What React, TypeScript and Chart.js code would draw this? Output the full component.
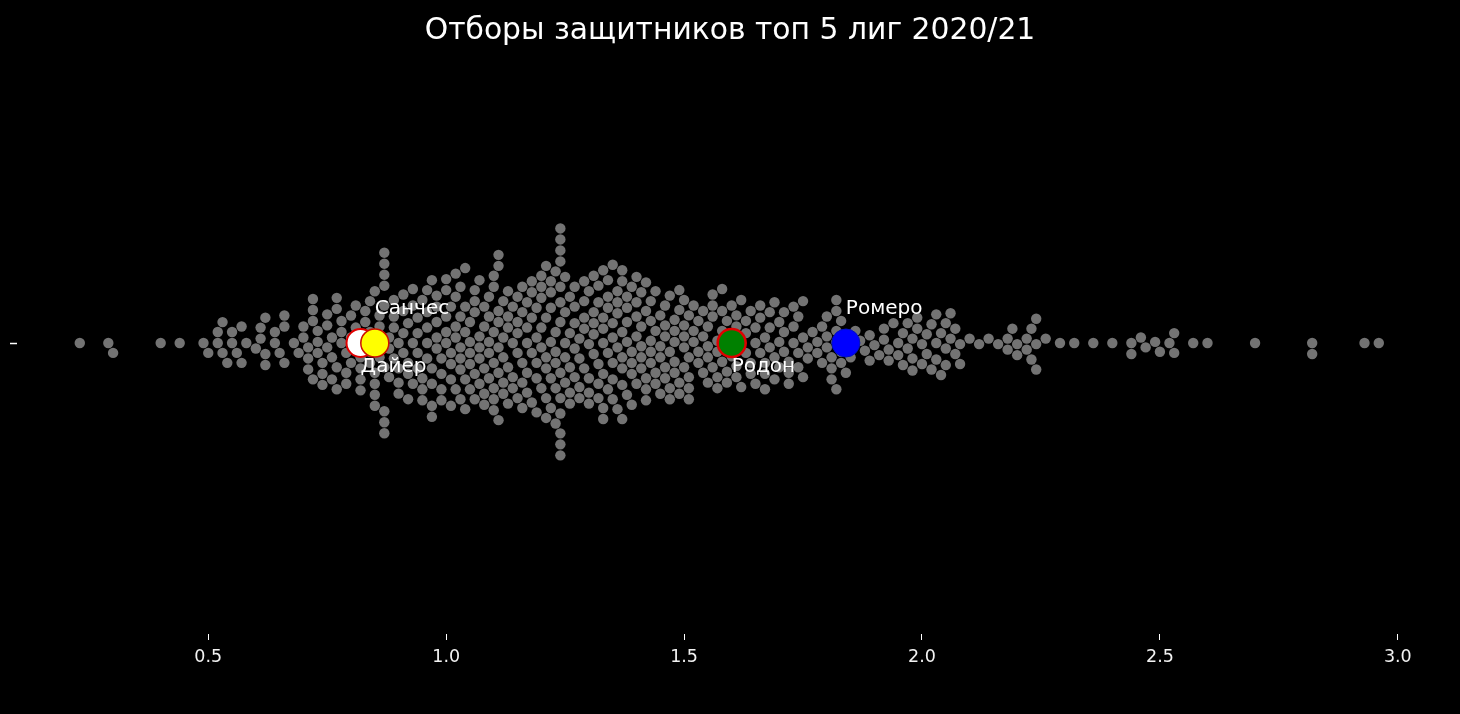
import React, { useEffect, useRef } from 'react';
import { Chart, registerables } from 'chart.js';

Chart.register(...registerables);

const TITLE = 'Отборы защитников топ 5 лиг 2020/21';

// tackles per 90 (distinct values) and number of defenders with that value
const tackleValues = [
  0.23, 0.29, 0.30, 0.40, 0.44, 0.49, 0.50, 0.52, 0.53, 0.54, 0.55, 0.56, 0.57, 0.58, 0.60, 0.61, 0.62, 0.64, 0.65, 0.66,
  0.68, 0.69, 0.70, 0.71, 0.72, 0.73, 0.74, 0.75, 0.76, 0.77, 0.78, 0.79, 0.80, 0.81, 0.82, 0.83, 0.84, 0.85, 0.86, 0.87,
  0.88, 0.89, 0.90, 0.91, 0.92, 0.93, 0.94, 0.95, 0.96, 0.97, 0.98, 0.99, 1.00, 1.01, 1.02, 1.03, 1.04, 1.05, 1.06, 1.07,
  1.08, 1.09, 1.10, 1.11, 1.12, 1.13, 1.14, 1.15, 1.16, 1.17, 1.18, 1.19, 1.20, 1.21, 1.22, 1.23, 1.24, 1.25, 1.26, 1.27,
  1.28, 1.29, 1.30, 1.31, 1.32, 1.33, 1.34, 1.35, 1.36, 1.37, 1.38, 1.39, 1.40, 1.41, 1.42, 1.43, 1.44, 1.45, 1.46, 1.47,
  1.48, 1.49, 1.50, 1.51, 1.52, 1.53, 1.54, 1.55, 1.56, 1.57, 1.58, 1.59, 1.60, 1.61, 1.62, 1.63, 1.64, 1.65, 1.66, 1.67,
  1.68, 1.69, 1.70, 1.71, 1.72, 1.73, 1.74, 1.75, 1.76, 1.77, 1.78, 1.79, 1.80, 1.81, 1.82, 1.83, 1.84, 1.85, 1.86, 1.87,
  1.88, 1.89, 1.90, 1.91, 1.92, 1.93, 1.94, 1.95, 1.96, 1.97, 1.98, 1.99, 2.00, 2.01, 2.02, 2.03, 2.04, 2.05, 2.06, 2.07,
  2.08, 2.10, 2.12, 2.14, 2.16, 2.18, 2.19, 2.20, 2.22, 2.23, 2.24, 2.26, 2.29, 2.32, 2.36, 2.40, 2.44, 2.46, 2.47, 2.49,
  2.50, 2.52, 2.53, 2.57, 2.60, 2.70, 2.82, 2.93, 2.96,
];
const playerCounts = [
  1, 1, 1, 1, 1, 1, 1, 2, 2, 1, 2, 1, 2, 1, 1, 2, 3, 2, 1, 3,
  1, 1, 2, 3, 4, 3, 3, 3, 3, 4, 3, 3, 3, 3, 4, 3, 4, 5, 4, 9,
  3, 4, 4, 4, 4, 4, 4, 4, 5, 5, 5, 4, 5, 5, 5, 6, 5, 5, 5, 5,
  5, 5, 7, 7, 5, 5, 4, 5, 5, 5, 5, 5, 6, 6, 6, 6, 13, 5, 5, 5,
  4, 5, 5, 5, 5, 7, 5, 6, 5, 7, 5, 5, 5, 5, 5, 5, 4, 4, 5, 4,
  5, 4, 5, 5, 3, 3, 3, 4, 4, 4, 4, 4, 3, 4, 3, 3, 3, 3, 3, 4,
  3, 3, 3, 3, 3, 3, 3, 3, 2, 1, 2, 2, 3, 3, 5, 3, 2, 2, 1, 1,
  1, 2, 1, 1, 2, 2, 1, 2, 2, 2, 3, 2, 2, 2, 2, 3, 2, 3, 2, 2,
  2, 1, 1, 1, 1, 2, 1, 2, 2, 2, 3, 1, 1, 1, 1, 1, 2, 1, 1, 1,
  1, 1, 2, 1, 1, 1, 2, 1, 1,
];

const highlightNames = ['Дайер', 'Санчес', 'Родон', 'Ромеро'];
const highlightValues = [0.82, 0.85, 1.6, 1.84];
const xTickValues = [0.5, 1.0, 1.5, 2.0, 2.5, 3.0];

const FONT = "'DejaVu Sans', sans-serif";
const GRAY = '#737373';
const highlightFill = ['#ffffff', '#ffff00', '#008000', '#0000ff'];
const highlightEdge = ['#e00000', '#cc1000', '#e00000', '#0010c0'];
const highlightEdgeWidth = [2, 1.5, 2.5, 1];
const labelAbove = [false, true, false, true];

function swarmOffsets(xs: number[], diameter: number): number[] {
  const order = xs.map((_, i) => i).sort((a, b) => xs[a] - xs[b]);
  const px: number[] = [];
  const py: number[] = [];
  const out = new Array(xs.length).fill(0);
  const d2 = diameter * diameter;
  let start = 0;
  for (const i of order) {
    const x = xs[i];
    while (start < px.length && x - px[start] >= diameter) start++;
    const nx: number[] = [];
    const ny: number[] = [];
    for (let k = start; k < px.length; k++) {
      if (Math.abs(x - px[k]) < diameter) {
        nx.push(px[k]);
        ny.push(py[k]);
      }
    }
    const cands = [0];
    for (let k = 0; k < nx.length; k++) {
      const dx = x - nx[k];
      const dy = Math.sqrt(Math.max(0, d2 - dx * dx));
      cands.push(ny[k] + dy, ny[k] - dy);
    }
    cands.sort((a, b) => Math.abs(a) - Math.abs(b));
    let chosen = cands[0];
    for (const c of cands) {
      let ok = true;
      for (let k = 0; k < nx.length; k++) {
        const dx = x - nx[k];
        const dy = c - ny[k];
        if (dx * dx + dy * dy < d2 - 1e-6) {
          ok = false;
          break;
        }
      }
      if (ok) {
        chosen = c;
        break;
      }
    }
    px.push(x);
    py.push(chosen);
    out[i] = chosen;
  }
  return out;
}

const titleAndLabels = {
  id: 'titleAndLabels',
  beforeDraw(chart: any) {
    const { ctx, width, height } = chart;
    ctx.save();
    ctx.fillStyle = '#000000';
    ctx.fillRect(0, 0, width, height);
    ctx.restore();
  },
  afterDatasetsDraw(chart: any) {
    const { ctx, chartArea } = chart;
    const xs = chart.scales.x;
    const ys = chart.scales.y;
    const cy = ys.getPixelForValue(0);
    ctx.save();
    ctx.fillStyle = '#ffffff';
    ctx.font = `29.8px ${FONT}`;
    ctx.textAlign = 'center';
    ctx.textBaseline = 'alphabetic';
    ctx.fillText(TITLE, (chartArea.left + chartArea.right) / 2, 39);
    ctx.font = `20px ${FONT}`;
    ctx.textAlign = 'left';
    highlightNames.forEach((name, i) => {
      const x = xs.getPixelForValue(highlightValues[i]);
      const y = labelAbove[i] ? cy - 29 : cy + 29;
      ctx.fillText(name, x, y);
    });
    ctx.restore();
  },
};

export default function App() {
  const canvasRef = useRef<HTMLCanvasElement | null>(null);

  useEffect(() => {
    document.body.style.margin = '0';
    document.body.style.background = '#000';
    const canvas = canvasRef.current;
    if (!canvas) return;

    const swarmX: number[] = [];
    tackleValues.forEach((v, i) => {
      for (let k = 0; k < playerCounts[i]; k++) swarmX.push(v);
    });

    const chart = new Chart(canvas, {
      type: 'scatter',
      data: {
        datasets: [
          {
            label: 'Игроки',
            data: highlightValues.map((v) => ({ x: v, y: 0 })),
            backgroundColor: highlightFill,
            borderColor: highlightEdge,
            borderWidth: highlightEdgeWidth,
            pointRadius: 14,
            pointHoverRadius: 14,
          },
          {
            label: 'Защитники',
            data: swarmX.map((v) => ({ x: v, y: 0 })),
            backgroundColor: GRAY,
            borderWidth: 0,
            pointRadius: 5.2,
            pointHoverRadius: 5.2,
          },
        ],
      },
      options: {
        responsive: false,
        animation: false,
        events: [],
        layout: { padding: { top: 52, right: 14.2, bottom: 0, left: 0 } },
        plugins: {
          legend: { display: false },
          tooltip: { enabled: false },
          title: { display: false },
        },
        scales: {
          x: {
            type: 'linear',
            min: 0.097,
            max: 3.096,
            border: { display: false },
            grid: {
              display: true,
              drawOnChartArea: false,
              drawTicks: true,
              tickLength: 6,
              tickColor: '#ffffff',
              tickWidth: 1,
            },
            ticks: {
              color: '#f2f2f2',
              font: { family: FONT, size: 17.5 },
              padding: 7,
              callback: (v: any) => Number(v).toFixed(1),
            },
            afterBuildTicks: (s: any) => {
              s.ticks = xTickValues.map((v) => ({ value: v }));
            },
            afterFit: (s: any) => {
              s.height = 80;
            },
          },
          y: {
            type: 'linear',
            min: -0.5,
            max: 0.5,
            border: { display: false },
            grid: {
              display: true,
              drawOnChartArea: false,
              drawTicks: true,
              tickLength: 6.5,
              tickColor: '#ffffff',
              tickWidth: 1.5,
            },
            ticks: { callback: () => '', padding: 0 },
            afterBuildTicks: (s: any) => {
              s.ticks = [{ value: 0 }];
            },
            afterFit: (s: any) => {
              s.width = 15.5;
            },
          },
        },
      },
      plugins: [titleAndLabels],
    });

    const xs: any = chart.scales.x;
    const ys: any = chart.scales.y;
    const cy = ys.getPixelForValue(0);
    const pixelX = swarmX.map((v) => xs.getPixelForValue(v));
    const offsets = swarmOffsets(pixelX, 11);
    (chart.data.datasets[1] as any).data = swarmX.map((v, i) => ({
      x: v,
      y: ys.getValueForPixel(cy + offsets[i]),
    }));
    chart.update();

    return () => chart.destroy();
  }, []);

  return (
    <div style={{ width: 1460, height: 714, background: '#000' }}>
      <canvas ref={canvasRef} width={1460} height={714} style={{ display: 'block' }} />
    </div>
  );
}
